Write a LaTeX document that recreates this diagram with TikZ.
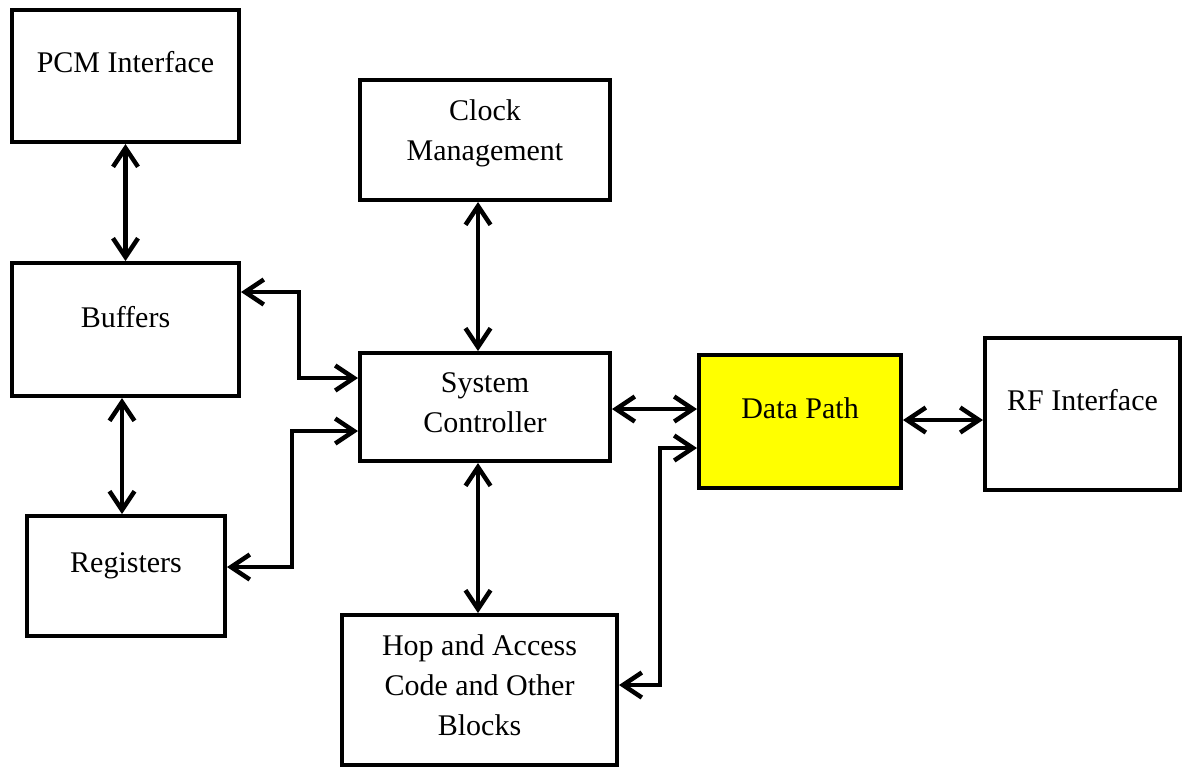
\documentclass[tikz,border=0pt]{standalone}
\usepackage{fontspec}
\setmainfont{Liberation Serif}
\usetikzlibrary{arrows.meta}
\definecolor{dpyellow}{RGB}{255,255,0}

\begin{document}
\begin{tikzpicture}[x=0.4pt, y=-0.4pt,
    blk/.style={draw, line width=1.6pt, align=center, inner sep=0pt,
        font=\fontsize{12}{16}\selectfont, text height=9pt},
    link/.style={line width=1.8pt,
        {Straight Barb[length=7.5pt,width=10pt]}-{Straight Barb[length=7.5pt,width=10pt]}}]
    \useasboundingbox (0,0) rectangle (1183,769);

    % ===== 左列 =====
    \node[blk, minimum width=90.8pt, minimum height=52.8pt, text depth=12pt] (pcm) at (125.5,76) {PCM Interface};
    \node[blk, minimum width=90.8pt, minimum height=53.2pt, text depth=11pt] (buf) at (125.5,329.5) {Buffers};
    \node[blk, minimum width=79.2pt, minimum height=48pt, text depth=12.2pt] (reg) at (126,576) {Registers};

    % ===== 中列 =====
    \node[blk, minimum width=100pt, minimum height=48pt, text height=25pt, text depth=9pt] (clk) at (485,140) {Clock\\Management};
    \node[blk, minimum width=100pt, minimum height=43.2pt, text height=25pt, text depth=4.6pt] (sys) at (485,407) {System\\Controller};
    \node[blk, minimum width=110pt, minimum height=60pt, text height=41pt, text depth=5pt] (hop) at (479.5,690) {Hop and Access\\Code and Other\\Blocks};

    % ===== 右侧 =====
    \node[blk, fill=dpyellow, minimum width=80.8pt, minimum height=53.2pt, text depth=11.8pt] (dp) at (800,421.5) {Data Path};
    \node[blk, minimum width=78pt, minimum height=60.8pt, text depth=12.2pt] (rf) at (1082.5,414) {RF Interface};

    % 竖直连线
    \draw[link] (pcm.south) -- (buf.north);
    \draw[link] (buf.south -| 122,0) -- (reg.north -| 122,0);
    \draw[link] (clk.south -| 478,0) -- (sys.north -| 478,0);
    \draw[link] (sys.south -| 478,0) -- (hop.north -| 478,0);

    % 折线连线
    \draw[link] (buf.east |- 0,292) -| (299,378) -- (sys.west |- 0,378);
    \draw[link] (reg.east |- 0,567) -| (292,431) -- (sys.west |- 0,431);
    \draw[link] (hop.east |- 0,685) -| (660,448) -- (dp.west |- 0,448);

    % 水平连线
    \draw[link] (sys.east |- 0,409) -- (dp.west |- 0,409);
    \draw[link] (dp.east |- 0,420) -- (rf.west |- 0,420);
\end{tikzpicture}
\end{document}
